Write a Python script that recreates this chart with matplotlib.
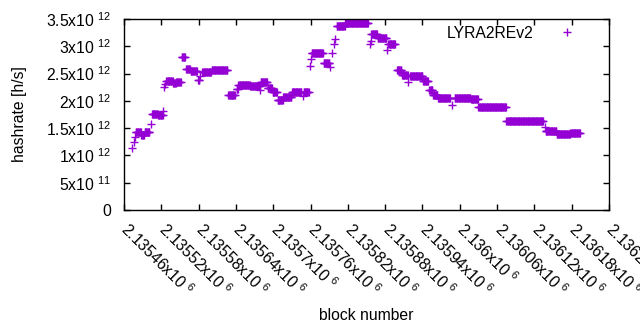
import numpy as np
import matplotlib
matplotlib.use('Agg')
import matplotlib.pyplot as plt
import matplotlib.transforms as mtransforms
from matplotlib.ticker import FixedLocator, FuncFormatter

plt.rcParams['font.family'] = ['Liberation Sans', 'DejaVu Sans']
plt.rcParams['mathtext.fontset'] = 'custom'
plt.rcParams['mathtext.rm'] = 'Liberation Sans'
plt.rcParams['mathtext.it'] = 'Liberation Sans'
plt.rcParams['mathtext.default'] = 'regular'

# runs of blocks with (nearly) the same hashrate
run_start = [2135473, 2135476, 2135478, 2135479, 2135488, 2135493, 2135504, 2135505,
             2135515, 2135523, 2135524, 2135526, 2135528, 2135539, 2135544, 2135553,
             2135560, 2135567, 2135579, 2135583, 2135586, 2135601, 2135628, 2135641,
             2135644, 2135663, 2135679, 2135680, 2135691, 2135699, 2135707, 2135716,
             2135730, 2135748, 2135749, 2135759, 2135761, 2135762, 2135781, 2135791,
             2135795, 2135797, 2135799, 2135802, 2135816, 2135855, 2135857, 2135858,
             2135868, 2135883, 2135885, 2135899, 2135907, 2135917, 2135920, 2135941,
             2135951, 2135957, 2135965, 2135987, 2135992, 2136018, 2136030, 2136075,
             2136137, 2136138, 2136156, 2136178]
run_end = [2135473, 2135476, 2135478, 2135487, 2135492, 2135501, 2135504, 2135514,
           2135522, 2135523, 2135524, 2135526, 2135538, 2135543, 2135551, 2135558,
           2135566, 2135577, 2135581, 2135583, 2135600, 2135626, 2135638, 2135643,
           2135662, 2135678, 2135679, 2135690, 2135698, 2135706, 2135715, 2135729,
           2135745, 2135748, 2135757, 2135759, 2135761, 2135780, 2135790, 2135791,
           2135795, 2135797, 2135799, 2135815, 2135852, 2135855, 2135857, 2135867,
           2135882, 2135883, 2135896, 2135906, 2135916, 2135917, 2135940, 2135949,
           2135956, 2135964, 2135984, 2135987, 2136017, 2136029, 2136074, 2136134,
           2136137, 2136155, 2136177, 2136193]
run_rate = [1.13, 1.24, 1.33, 1.43, 1.38, 1.43, 1.58, 1.76,
            1.74, 1.81, 2.25, 2.30, 2.37, 2.32, 2.35, 2.80,
            2.59, 2.55, 2.38, 2.46, 2.52, 2.56, 2.11, 2.22,
            2.29, 2.27, 2.19, 2.34, 2.23, 2.17, 2.01, 2.07,
            2.17, 2.08, 2.17, 2.63, 2.76, 2.87, 2.70, 2.62,
            2.88, 3.05, 3.13, 3.37, 3.42, 3.05, 3.10, 3.22,
            3.15, 2.93, 3.05, 2.57, 2.47, 2.34, 2.45, 2.37,
            2.20, 2.11, 2.05, 1.93, 2.05, 2.03, 1.88, 1.625,
            1.52, 1.44, 1.39, 1.41]  # x10^12 h/s

xticks = list(range(2135460, 2136241, 60))
yticks = [0, 0.5e12, 1e12, 1.5e12, 2e12, 2.5e12, 3e12, 3.5e12]

blocks = []
rates = []
for s, e, r in zip(run_start, run_end, run_rate):
    for b in range(s, e + 1):
        blocks.append(b)
        rates.append(r * 1e12)

color = '#9400d3'
fs = 11.3

fig = plt.figure(figsize=(6.4, 3.3), dpi=100)
ax = fig.add_axes([124/640, 1 - 210/330, (609-124)/640, (210-19)/330])
ax.plot(blocks, rates, '+', color=color, ms=5.5, mew=1.0, label='LYRA2REv2')

ax.set_xlim(2135460, 2136240)
ax.set_ylim(0, 3.5e12)

def sci(v, pos=None):
    if v == 0:
        return '0'
    e = int(np.floor(np.log10(v) + 1e-9))
    m = v / 10**e
    return '%gx10 $^{%d}$' % (m, e)

def xfmt(v, pos=None):
    return '%gx10 $^{6}$' % (v / 1e6)

ax.xaxis.set_major_locator(FixedLocator(xticks))
ax.yaxis.set_major_locator(FixedLocator(yticks))
ax.xaxis.set_major_formatter(FuncFormatter(xfmt))
ax.yaxis.set_major_formatter(FuncFormatter(sci))
ax.tick_params(direction='in', length=4, width=1, top=True, right=True, labelsize=fs, colors='black')
ax.tick_params(axis='x', pad=3, labelrotation=-45)
ax.tick_params(axis='y', pad=9)
shift = mtransforms.ScaledTranslation(0.07, -0.05, fig.dpi_scale_trans)
for lab in ax.get_xticklabels():
    lab.set_ha('left')
    lab.set_va('top')
    lab.set_rotation_mode('anchor')
    lab.set_transform(lab.get_transform() + shift)
for sp in ax.spines.values():
    sp.set_linewidth(1)

ax.set_xlabel('block number', fontsize=fs)
ax.xaxis.set_label_coords(0.5, -0.515)
ax.set_ylabel('hashrate [h/s]', fontsize=fs)
ax.yaxis.set_label_coords(-0.2, 0.5)

ax.legend(loc='upper right', bbox_to_anchor=(0.958, 0.998), frameon=False, markerfirst=False,
          fontsize=fs, handlelength=2, handletextpad=1.13, borderaxespad=0)

fig.savefig('out.png', dpi=100)
